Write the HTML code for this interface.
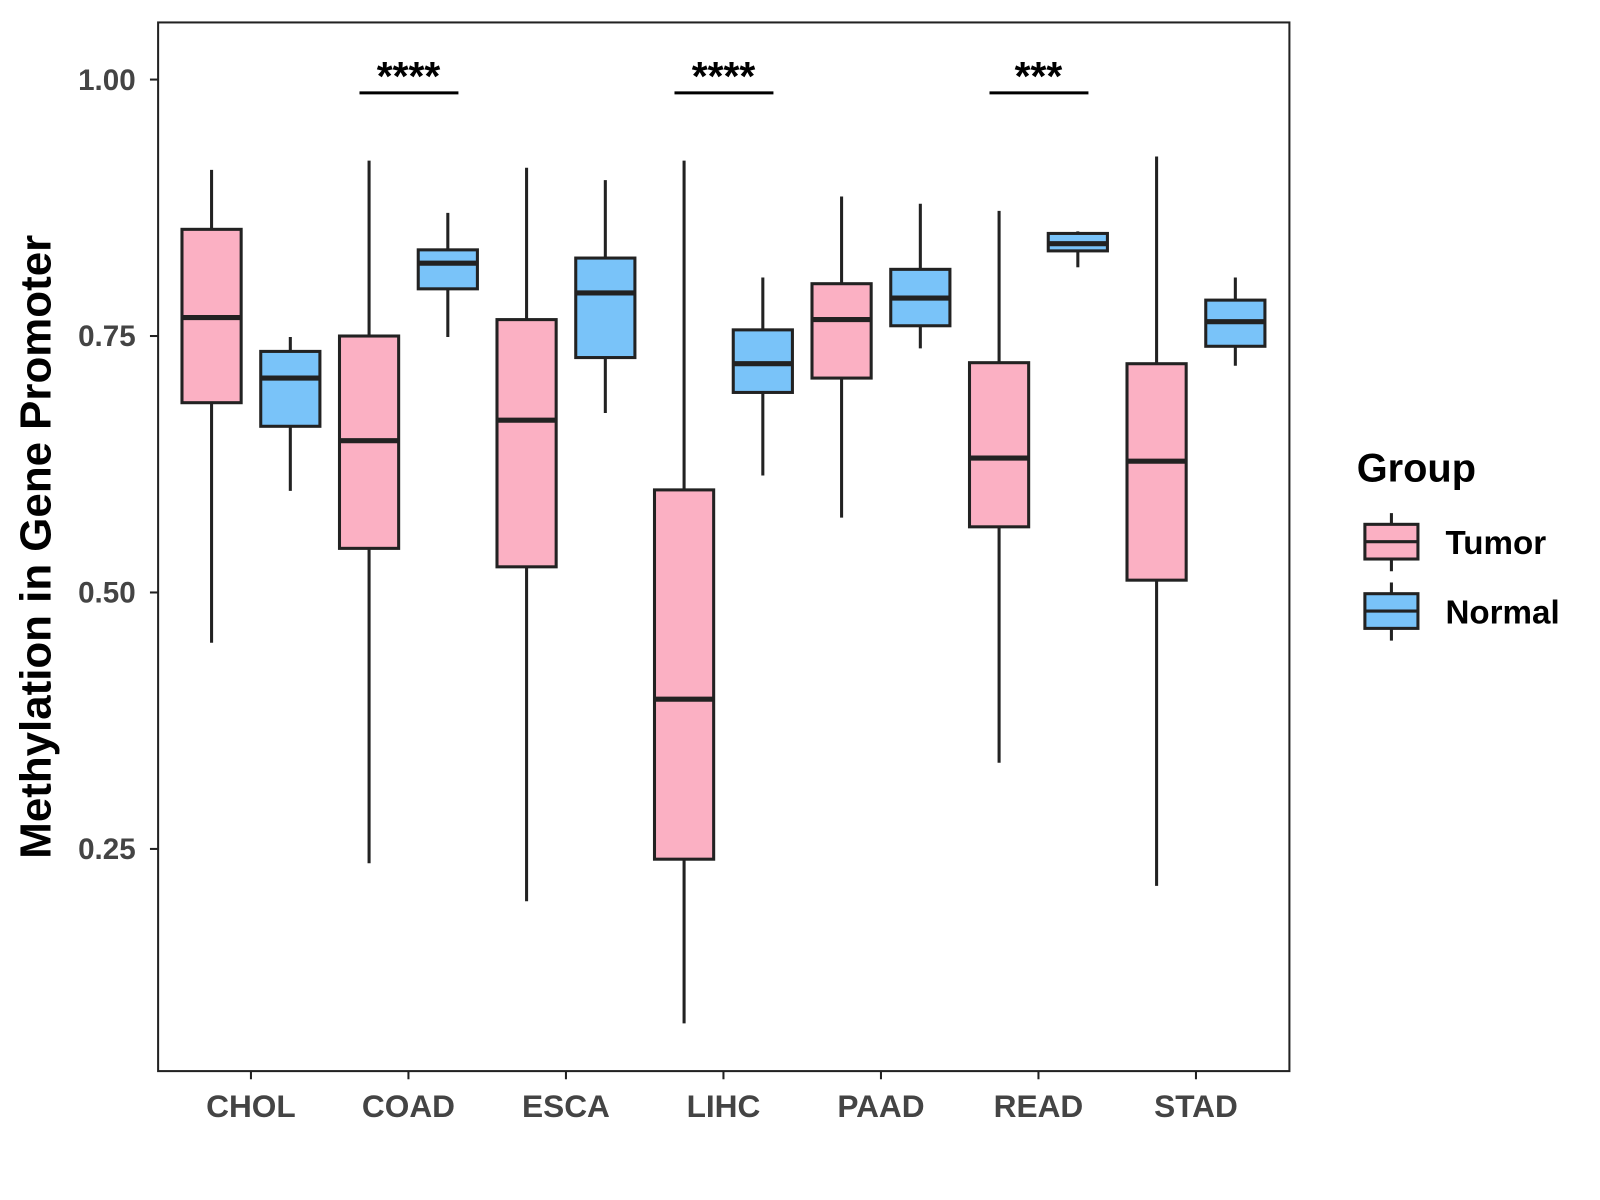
<!DOCTYPE html>
<html><head><meta charset="utf-8"><style>
body{margin:0;background:#fff}
svg{display:block;font-family:"Liberation Sans",Arial,sans-serif}
</style></head><body>
<svg id="chart" width="1600" height="1200" viewBox="0 0 1600 1200">
<rect x="0" y="0" width="1600" height="1200" fill="#fff"/>
<g transform="scale(1.0201)">
<rect x="155" y="22" width="1109" height="1028" fill="none" stroke="#222" stroke-width="2"/>
<g id="yaxis"></g>
<g id="xaxis"></g>
<g id="boxes"></g>
<g id="sig"></g>
<text x="38" y="536" transform="rotate(-90 38 536)" text-anchor="middle" font-size="43" font-weight="bold" fill="#000" dominant-baseline="middle">Methylation in Gene Promoter</text>
<g>
<text x="1330" y="472" font-size="39" font-weight="bold" fill="#000">Group</text>
<g>
<line x1="1364" y1="503" x2="1364" y2="560" stroke="#222" stroke-width="3"/>
<rect x="1338" y="514" width="52" height="34" fill="#fbb0c3" stroke="#222" stroke-width="3"/>
<line x1="1338" y1="531" x2="1390" y2="531" stroke="#222" stroke-width="3"/>
<text x="1417" y="543" font-size="32.5" font-weight="bold" fill="#000">Tumor</text>
</g>
<g>
<line x1="1364" y1="571" x2="1364" y2="628" stroke="#222" stroke-width="3"/>
<rect x="1338" y="582" width="52" height="34" fill="#79c3f9" stroke="#222" stroke-width="3"/>
<line x1="1338" y1="599" x2="1390" y2="599" stroke="#222" stroke-width="3"/>
<text x="1417" y="611" font-size="32.5" font-weight="bold" fill="#000">Normal</text>
</g>
</g>
</g>
</svg>
<script>
const categories=["CHOL","COAD","ESCA","LIHC","PAAD","READ","STAD"];
// [whiskerLow, q1, median, q3, whiskerHigh]
const tumorStats=[
[0.451,0.685,0.768,0.854,0.912],
[0.236,0.543,0.648,0.750,0.921],
[0.199,0.525,0.668,0.766,0.914],
[0.080,0.240,0.396,0.600,0.921],
[0.573,0.709,0.766,0.801,0.886],
[0.334,0.564,0.631,0.724,0.872],
[0.214,0.512,0.628,0.723,0.925]];
const normalStats=[
[0.599,0.662,0.709,0.735,0.749],
[0.749,0.796,0.821,0.834,0.870],
[0.675,0.729,0.792,0.826,0.902],
[0.614,0.695,0.723,0.756,0.807],
[0.738,0.760,0.787,0.815,0.879],
[0.817,0.833,0.840,0.850,0.852],
[0.721,0.740,0.764,0.785,0.807]];
const yTicks=[0.25,0.50,0.75,1.00];
const yTickLabels=["0.25","0.50","0.75","1.00"];
const sigCats=["COAD","LIHC","READ"];
const sigLabels=["****","****","***"];
const sigLevel=0.987;

const NS="http://www.w3.org/2000/svg";
function y(v){return 78+(1-v)*1005.6;}
function x(i){return 246+i*154.4;}
function mk(parent,tag,attrs){const e=document.createElementNS(NS,tag);for(const k in attrs)e.setAttribute(k,attrs[k]);parent.appendChild(e);return e;}
const ya=document.getElementById('yaxis'),xa=document.getElementById('xaxis'),bx=document.getElementById('boxes'),sg=document.getElementById('sig');
yTicks.forEach((t,i)=>{
  const l=mk(ya,'line',{x1:147,x2:155,y1:y(t),y2:y(t),stroke:'#222','stroke-width':2});
  
  
  const tx=mk(ya,'text',{x:133,y:y(t)+10,'text-anchor':'end','font-size':29,'font-weight':'bold',fill:'#444'});
  tx.textContent=yTickLabels[i];
  
  
});
categories.forEach((c,i)=>{
  const l=mk(xa,'line',{x1:x(i),x2:x(i),y1:1050,y2:1058,stroke:'#222','stroke-width':2});
  
  
  const tx=mk(xa,'text',{x:x(i),y:1095,'text-anchor':'middle','font-size':31,'font-weight':'bold',fill:'#444'});
  tx.textContent=c;
  
  
});
function drawBox(cx,s,fill,name){
  const g=mk(bx,'g',{});
  
  
  const w=58;
  mk(g,'line',{x1:cx,x2:cx,y1:y(s[4]),y2:y(s[0]),stroke:'#222','stroke-width':3});
  mk(g,'rect',{x:cx-w/2,y:y(s[3]),width:w,height:y(s[1])-y(s[3]),fill:fill,stroke:'#222','stroke-width':3});
  mk(g,'line',{x1:cx-w/2,x2:cx+w/2,y1:y(s[2]),y2:y(s[2]),stroke:'#222','stroke-width':5});
}
categories.forEach((c,i)=>{
  drawBox(x(i)-38.6,tumorStats[i],'#fbb0c3','box-tumor-'+c.toLowerCase());
  drawBox(x(i)+38.6,normalStats[i],'#79c3f9','box-normal-'+c.toLowerCase());
});
sigCats.forEach((c,k)=>{
  const i=categories.indexOf(c);
  const l=mk(sg,'line',{x1:x(i)-48,x2:x(i)+49,y1:y(sigLevel),y2:y(sigLevel),stroke:'#000','stroke-width':3});
  
  
  const t=mk(sg,'text',{x:x(i),y:y(sigLevel)-3,'text-anchor':'middle','font-size':40,'font-weight':'bold',fill:'#000'});
  t.textContent=sigLabels[k];
  
  
});
</script>
</body></html>
